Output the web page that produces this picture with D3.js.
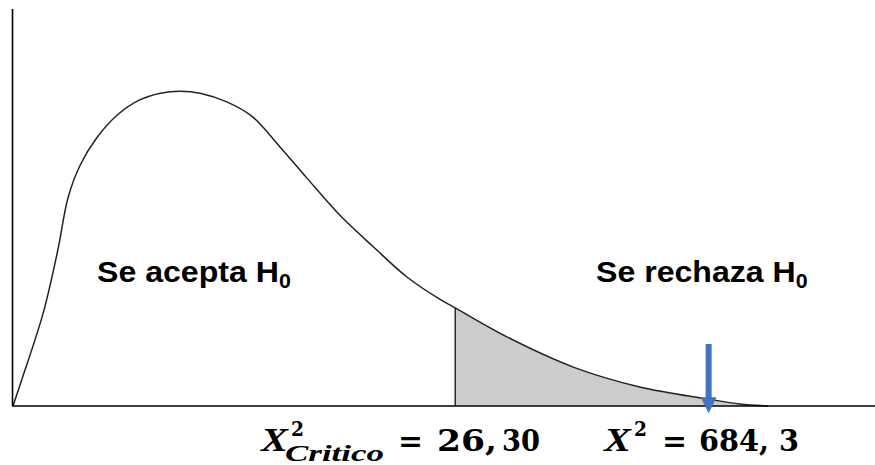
<!DOCTYPE html>
<html>
<head>
<meta charset="utf-8">
<script src="https://cdn.jsdelivr.net/npm/d3@7"></script>
<style>
  html, body { margin: 0; padding: 0; background: #fff; }
  svg { display: block; }
</style>
</head>
<body>
<svg id="chart" width="875" height="465"></svg>
<script>
// Schematic chi-square density (arbitrary units 0-100)
const curveX = [0, 1.0, 3.5, 5.2, 6.4, 7.8, 9.7, 12.1, 14.7, 17.1, 19.4, 21.7, 24.8, 27.7, 31.0, 34.1, 37.9, 41.8, 45.7, 49.5, 51.3, 57.3, 65.0, 72.7, 80.5, 84.3, 87.6];
const curveY = [0, 6.5, 23.4, 39.3, 52.6, 60.7, 67.5, 73.3, 77.1, 78.8, 79.3, 78.8, 76.6, 73.0, 65.2, 57.4, 48.1, 40.1, 32.5, 26.9, 24.7, 17.4, 9.8, 4.8, 1.8, 0.5, 0];
const criticalX = 51.3;          // position of the critical value
const statisticX = 80.7;         // position of the test statistic (arrow)
const arrowRange = [15.6, -1.8]; // arrow top / tip (y units)
const regionLabels = ["Se acepta H", "Se rechaza H"];
const criticalValueLabel = ["26,", "30"];
const statisticValueLabel = ["684,", "3"];

const svg = d3.select("#chart");
const x = d3.scaleLinear().domain([0, 100]).range([13, 875]);
const y = d3.scaleLinear().domain([0, 100]).range([406, 9]);

const pts = curveX.map((v, i) => ({x: v, y: curveY[i]}));
const curve = d3.curveCatmullRom.alpha(0.5);

// shaded rejection region
const tail = pts.filter(p => p.x >= criticalX);
svg.append("path")
  .datum(tail)
  .attr("d", d3.area().x(d => x(d.x)).y0(y(0)).y1(d => y(d.y)).curve(curve))
  .attr("fill", "#cccccc");

// critical line
const critY = pts.find(p => p.x === criticalX).y;
svg.append("line")
  .attr("x1", x(criticalX)).attr("x2", x(criticalX))
  .attr("y1", y(0)).attr("y2", y(critY))
  .attr("stroke", "#111").attr("stroke-width", 1.3);

// density curve
svg.append("path")
  .datum(pts)
  .attr("d", d3.line().x(d => x(d.x)).y(d => y(d.y)).curve(curve))
  .attr("fill", "none")
  .attr("stroke", "#222")
  .attr("stroke-width", 1.5);

// axes
svg.append("line")
  .attr("x1", x(0) - 0.5).attr("x2", x(0) - 0.5)
  .attr("y1", y(100)).attr("y2", y(0))
  .attr("stroke", "#000").attr("stroke-width", 1.6);
svg.append("line")
  .attr("x1", x(0) - 1).attr("x2", x(100))
  .attr("y1", y(0)).attr("y2", y(0))
  .attr("stroke", "#000").attr("stroke-width", 1.6);

// arrow
const ax = x(statisticX), aTop = y(arrowRange[0]), aTip = y(arrowRange[1]);
const headLen = 16, headHalf = 8, shaftHalf = 3;
svg.append("path")
  .attr("d", `M${ax - shaftHalf},${aTop} L${ax + shaftHalf},${aTop} L${ax + shaftHalf},${aTip - headLen} L${ax + headHalf},${aTip - headLen} L${ax},${aTip} L${ax - headHalf},${aTip - headLen} L${ax - shaftHalf},${aTip - headLen} Z`)
  .attr("fill", "#4472C4");

// region labels (Arial-like bold, slightly stretched)
function regionLabel(tx, ty, txt) {
  const g = svg.append("g").attr("transform", `translate(${tx},${ty}) scale(1.07,1)`);
  const t = g.append("text")
    .attr("font-family", "Liberation Sans, Arial, sans-serif")
    .attr("font-weight", "bold")
    .attr("font-size", 30)
    .attr("fill", "#000");
  t.append("tspan").text(txt);
  t.append("tspan").attr("font-size", 20).attr("dy", 5.5).text("0");
}
regionLabel(97, 282, regionLabels[0]);
regionLabel(596, 282, regionLabels[1]);

// formula labels
const serif = "DejaVu Serif, Cambria, serif";
function piece(txt, tx, ty, size, italic, len, family) {
  const t = svg.append("text")
    .attr("x", tx).attr("y", ty)
    .attr("font-family", family || serif)
    .attr("font-weight", "bold")
    .attr("font-style", italic ? "italic" : "normal")
    .attr("font-size", size)
    .attr("fill", "#000")
    .text(txt);
  if (len) t.attr("textLength", len).attr("lengthAdjust", "spacingAndGlyphs");
  return t;
}
const times = "Liberation Serif, Times New Roman, serif";
// X^2_Critico = 26,30
piece("X", 261, 451, 34, true, 27, times);
piece("2", 291, 436, 20, false, 13);
piece("Critico", 285, 461, 23, true, 99, times);
piece("=", 398, 451, 30, false, 25);
piece(criticalValueLabel[0], 437, 451, 30, false, 60);
piece(criticalValueLabel[1], 502, 451, 30, false, 38);
// X^2 = 684,3
piece("X", 604, 451, 34, true, 27, times);
piece("2", 634, 436, 20, false, 13);
piece("=", 662, 451, 30, false, 25);
piece(statisticValueLabel[0], 699, 451, 30, false, 70);
piece(statisticValueLabel[1], 779, 451, 30, false, 20);
</script>
</body>
</html>
